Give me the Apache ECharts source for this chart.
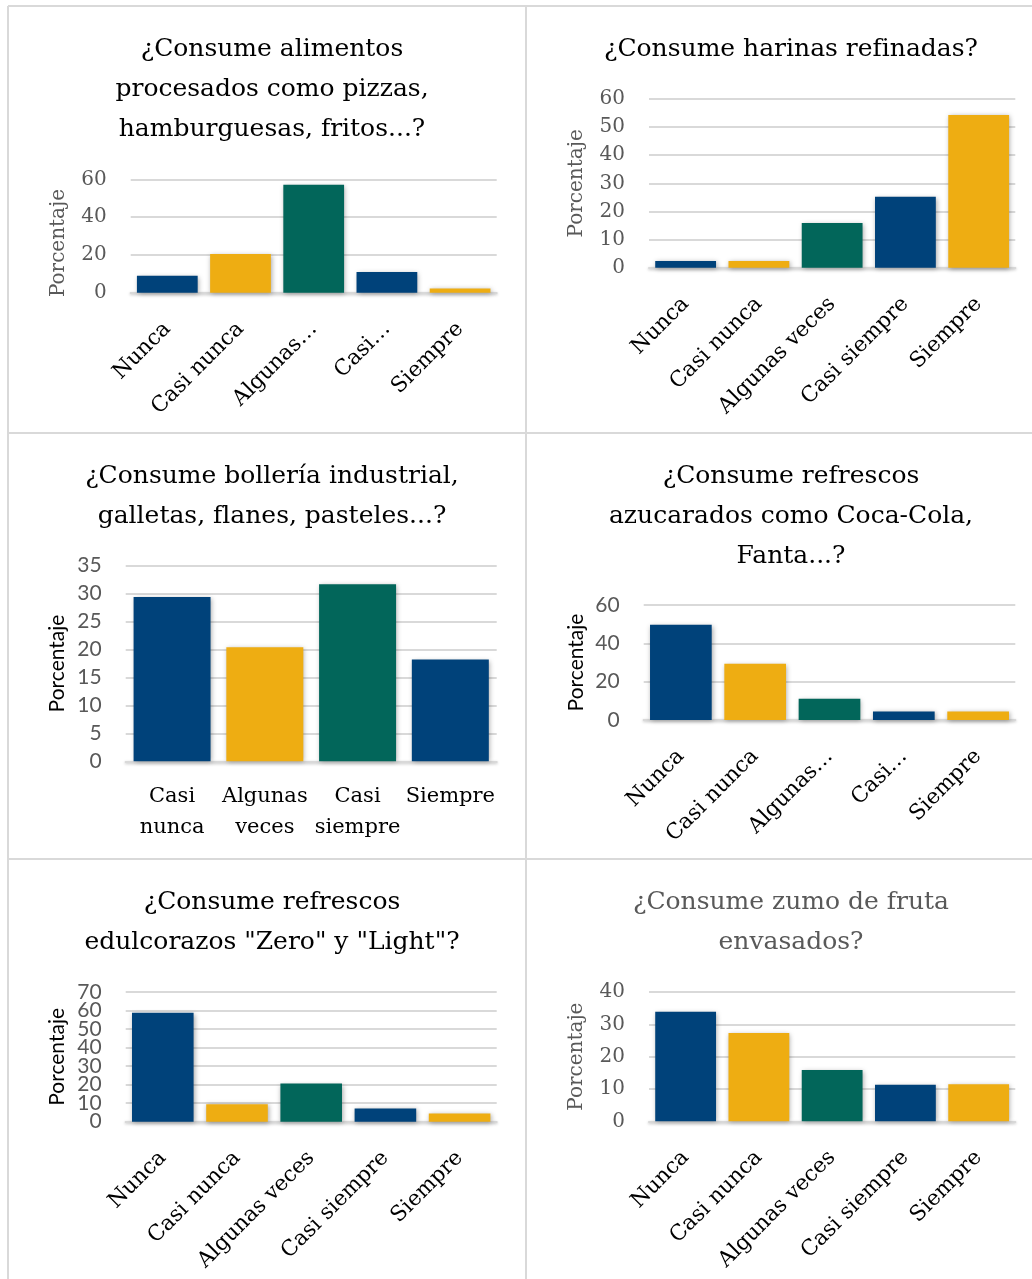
<!DOCTYPE html>
<html lang="es">
<head>
<meta charset="utf-8">
<title>Consumo de alimentos</title>
<script src="https://cdn.jsdelivr.net/npm/echarts@6/dist/echarts.min.js"></script>
<style>
  html, body { margin: 0; padding: 0; background: #ffffff; }
  #chart { width: 1032px; height: 1279px; }
</style>
</head>
<body>
<div id="chart"></div>
<script>
// Response categories
const categories = ['Nunca', 'Casi nunca', 'Algunas veces', 'Casi siempre', 'Siempre'];
const shortLabels = ['Nunca', 'Casi nunca', 'Algunas…', 'Casi…', 'Siempre'];
const bolleriaCategories = ['Casi nunca', 'Algunas veces', 'Casi siempre', 'Siempre'];
const bolleriaLabels = ['Casi\nnunca', 'Algunas\nveces', 'Casi\nsiempre', 'Siempre'];

// Percentages per question
const procesados = [9.0, 20.5, 57.1, 11.0, 2.2];
const harinas = [2.4, 2.4, 15.9, 25.2, 54.3];
const bolleria = [29.4, 20.4, 31.7, 18.2];
const azucarados = [49.7, 29.3, 11.1, 4.4, 4.4];
const edulcorados = [58.8, 9.4, 20.6, 7.1, 4.4];
const zumos = [33.9, 27.3, 15.9, 11.3, 11.5];

// Value axis ranges: [max, interval]
const procesadosAxis = [60, 20];
const harinasAxis = [60, 10];
const bolleriaAxis = [35, 5];
const azucaradosAxis = [60, 20];
const edulcoradosAxis = [70, 10];
const zumosAxis = [40, 10];

const titles = [
  '¿Consume alimentos\nprocesados como pizzas,\nhamburguesas, fritos...?',
  '¿Consume harinas refinadas?',
  '¿Consume bollería industrial,\ngalletas, flanes, pasteles...?',
  '¿Consume refrescos\nazucarados como Coca-Cola,\nFanta...?',
  '¿Consume refrescos\nedulcorazos "Zero" y "Light"?',
  '¿Consume zumo de fruta\nenvasados?'
];
const axisName = 'Porcentaje';

// Styling
const barColors = ['#00427A', '#EEAD12', '#02665A', '#00427A', '#EEAD12'];
const SERIF = '"DejaVu Serif", "Liberation Serif", serif';
const SANS = 'Lato, "Open Sans", sans-serif';
const GRID_LINE = '#d9d9d9';

// Panel layout and per-panel text style.
// splitTicks: tick labels are packed tightly, so odd and even steps go on two
// stacked value axes to keep every label visible.
const panels = [
  { data: procesados, cats: categories, labels: shortLabels, axis: procesadosAxis, rotate: 45,
    grid: { left: 130.7, top: 179.3, width: 366, height: 113.4 }, title: { x: 267, y: 24, color: '#000' },
    tickFont: SERIF, tickSize: 20, nameFont: SERIF, nameSize: 20, nameColor: '#595959', nameGap: 62, namePad: [0, 14, 0, 0] },
  { data: harinas, cats: categories, labels: categories, axis: harinasAxis, rotate: 45,
    grid: { left: 649, top: 99, width: 366.3, height: 168.7 }, title: { x: 786, y: 24, color: '#000' },
    tickFont: SERIF, tickSize: 20, nameFont: SERIF, nameSize: 20, nameColor: '#595959', nameGap: 62, namePad: 0 },
  { data: bolleria, cats: bolleriaCategories, labels: bolleriaLabels, axis: bolleriaAxis, rotate: 0,
    grid: { left: 125.7, top: 565.7, width: 371, height: 195.6 }, title: { x: 267, y: 451, color: '#000' },
    tickFont: SANS, tickSize: 21, nameFont: SANS, nameSize: 21, nameColor: '#000', nameGap: 58, namePad: 0 },
  { data: azucarados, cats: categories, labels: shortLabels, axis: azucaradosAxis, rotate: 45,
    grid: { left: 643.7, top: 605, width: 371.6, height: 115 }, title: { x: 786, y: 451, color: '#000' },
    tickFont: SANS, tickSize: 21, nameFont: SANS, nameSize: 21, nameColor: '#000', nameGap: 57, namePad: 0 },
  { data: edulcorados, cats: categories, labels: categories, axis: edulcoradosAxis, rotate: 45, splitTicks: true,
    grid: { left: 125.7, top: 992, width: 371, height: 129.7 }, title: { x: 267, y: 877, color: '#000' },
    tickFont: SANS, tickSize: 21, nameFont: SANS, nameSize: 21, nameColor: '#000', nameGap: 58, namePad: 0 },
  { data: zumos, cats: categories, labels: categories, axis: zumosAxis, rotate: 45,
    grid: { left: 649, top: 992, width: 366.3, height: 129.3 }, title: { x: 786, y: 877, color: '#595959' },
    tickFont: SERIF, tickSize: 20, nameFont: SERIF, nameSize: 20, nameColor: '#595959', nameGap: 62, namePad: 0 }
];

function tickLabel(p, parity) {
  return {
    margin: 24, fontFamily: p.tickFont, fontSize: p.tickSize, color: '#595959',
    showMinLabel: true, showMaxLabel: true, hideOverlap: false,
    formatter: v => {
      if (parity == null) return String(v);
      return Math.round(v / p.axis[1]) % 2 === parity ? String(v) : '';
    }
  };
}

const yAxes = [];
panels.forEach((p, i) => {
  yAxes.push({
    type: 'value',
    gridIndex: i,
    min: 0,
    max: p.axis[0],
    interval: p.axis[1],
    name: axisName,
    nameLocation: 'middle',
    nameGap: p.nameGap,
    nameTextStyle: { fontFamily: p.nameFont, fontSize: p.nameSize, color: p.nameColor, padding: p.namePad },
    axisLine: { show: false },
    axisTick: { show: false },
    axisLabel: tickLabel(p, p.splitTicks ? 0 : null),
    splitLine: { lineStyle: { color: GRID_LINE, width: 2 } }
  });
});
// Companion axes carrying the odd-step labels
panels.forEach((p, i) => {
  if (!p.splitTicks) return;
  yAxes.push({
    type: 'value',
    gridIndex: i,
    position: 'left',
    min: 0,
    max: p.axis[0],
    interval: p.axis[1],
    axisLine: { show: false },
    axisTick: { show: false },
    axisLabel: tickLabel(p, 1),
    splitLine: { show: false }
  });
});

const option = {
  backgroundColor: '#ffffff',
  animation: false,
  title: panels.map((p, i) => ({
    text: titles[i],
    left: p.title.x,
    top: p.title.y,
    textAlign: 'center',
    textStyle: { fontFamily: SERIF, fontSize: 25, fontWeight: 'normal', color: p.title.color, lineHeight: 40 }
  })),
  grid: panels.map(p => Object.assign({ containLabel: false }, p.grid)),
  xAxis: panels.map((p, i) => ({
    type: 'category',
    gridIndex: i,
    data: p.cats,
    axisTick: { show: false },
    axisLine: { lineStyle: { color: GRID_LINE, width: 2, shadowColor: 'rgba(0,0,0,0.25)', shadowBlur: 3, shadowOffsetY: 1 } },
    axisLabel: {
      interval: 0,
      rotate: p.rotate,
      margin: p.rotate ? 33 : 20,
      fontFamily: SERIF,
      fontSize: p.rotate ? 21.5 : 21,
      color: '#000',
      lineHeight: 31,
      formatter: (v, idx) => p.labels[idx]
    }
  })),
  yAxis: yAxes,
  series: panels.map((p, i) => ({
    type: 'bar',
    xAxisIndex: i,
    yAxisIndex: i,
    data: p.data,
    barCategoryGap: '17%',
    itemStyle: {
      color: params => barColors[params.dataIndex],
      shadowColor: 'rgba(0,0,0,0.35)',
      shadowBlur: 5,
      shadowOffsetX: 1,
      shadowOffsetY: 1
    }
  })),
  graphic: [
    { type: 'line', shape: { x1: 8, y1: 6, x2: 1032, y2: 6 }, style: { stroke: GRID_LINE, lineWidth: 2 } },
    { type: 'line', shape: { x1: 8, y1: 6, x2: 8, y2: 1279 }, style: { stroke: GRID_LINE, lineWidth: 2 } },
    { type: 'line', shape: { x1: 526, y1: 6, x2: 526, y2: 1279 }, style: { stroke: GRID_LINE, lineWidth: 2 } },
    { type: 'line', shape: { x1: 8, y1: 433, x2: 1032, y2: 433 }, style: { stroke: GRID_LINE, lineWidth: 2 } },
    { type: 'line', shape: { x1: 8, y1: 859, x2: 1032, y2: 859 }, style: { stroke: GRID_LINE, lineWidth: 2 } }
  ]
};

const chart = echarts.init(document.getElementById('chart'), null, { renderer: 'canvas' });
chart.setOption(option);
</script>
</body>
</html>
